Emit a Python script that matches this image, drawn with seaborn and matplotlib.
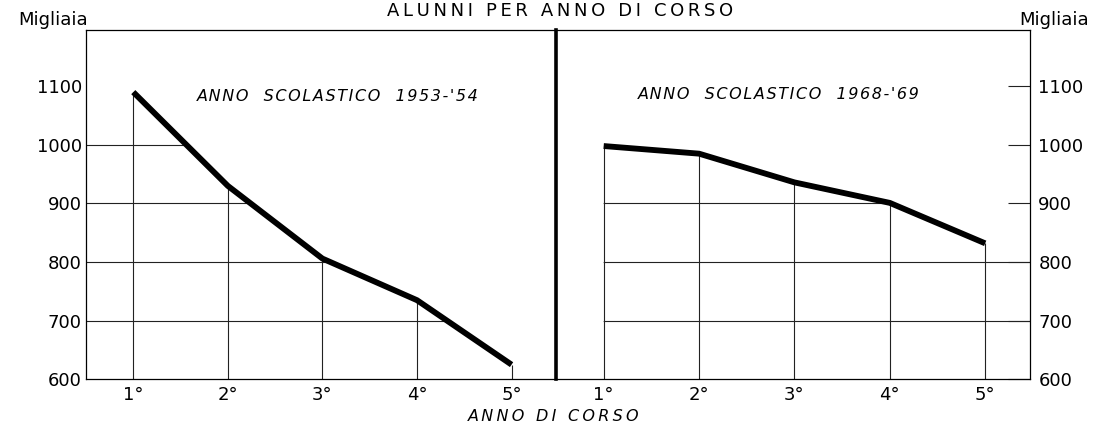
import numpy as np
import pandas as pd
import seaborn as sns
import matplotlib.pyplot as plt
from matplotlib.patches import Polygon

# dati (migliaia di alunni per anno di corso)
anni = [1, 2, 3, 4, 5]
etichette_anni = ['1°', '2°', '3°', '4°', '5°']
alunni_1953 = [1090, 930, 806, 735, 625]
alunni_1968 = [998, 985, 936, 901, 832]
yticks = [600, 700, 800, 900, 1000, 1100]

sns.set_theme(style='white')
plt.rcParams['font.family'] = ['DejaVu Sans']
plt.rcParams['text.color'] = 'black'
plt.rcParams['xtick.color'] = 'black'
plt.rcParams['ytick.color'] = 'black'

XMIN, XMAX = 0.5, 5.47
YMIN, YMAX = 600, 1196


def spaziato(testo, sep='\u200a'):
    return sep.join(testo)


def pannello(ax, valori, lato):
    df = pd.DataFrame({'anno': anni, 'alunni': valori})
    # area sotto la curva usata per ritagliare la griglia
    if lato == 'left':
        verts = [(XMIN, YMIN), (XMIN, valori[0])] + list(zip(anni, valori)) + [(anni[-1], YMIN)]
    else:
        verts = [(anni[0], YMIN)] + list(zip(anni, valori)) + [(XMAX, valori[-1]), (XMAX, YMIN)]
    clip = Polygon(verts, closed=True, transform=ax.transData)

    for y in yticks[1:]:
        ln, = ax.plot([XMIN, XMAX], [y, y], color='#222222', lw=0.8, zorder=1)
        ln.set_clip_path(clip)
    ax.vlines(anni, YMIN, valori, color='#222222', lw=0.8, zorder=1)

    sns.lineplot(data=df, x='anno', y='alunni', ax=ax, color='black', lw=4.2,
                 zorder=3, solid_capstyle='butt', solid_joinstyle='miter')

    ax.set_xlim(XMIN, XMAX)
    ax.set_ylim(YMIN, YMAX)
    ax.set_xticks(anni)
    ax.set_xticklabels(etichette_anni, fontsize=13)
    ax.set_yticks(yticks)
    ax.set_yticklabels([str(v) for v in yticks], fontsize=13)
    ax.set_xlabel('')
    ax.set_ylabel('')
    ax.tick_params(axis='x', length=0, pad=5)
    ax.tick_params(axis='y', direction='in', length=15.5, width=0.8, color='#222222')
    for s in ax.spines.values():
        s.set_color('black')
        s.set_linewidth(0.9)


fig = plt.figure(figsize=(11.04, 4.26), dpi=100)
ax1 = fig.add_axes([86 / 1104, 46.7 / 426, 470 / 1104, 349.3 / 426])
ax2 = fig.add_axes([556 / 1104, 46.7 / 426, 474 / 1104, 349.3 / 426])
ax2.patch.set_visible(False)

pannello(ax1, alunni_1953, 'left')
pannello(ax2, alunni_1968, 'right')

# linea divisoria spessa tra i due anni scolastici
ax1.spines['right'].set_linewidth(2.6)
ax1.tick_params(axis='y', pad=3)
ax2.spines['left'].set_visible(False)
ax2.yaxis.tick_right()
ax2.tick_params(axis='y', pad=6)

ax1.text((197 - 86) / 470, (379.3 - 101) / 349.3, spaziato("ANNO  SCOLASTICO  1953-'54"),
         fontsize=11.5, style='italic', ha='left', va='baseline', transform=ax1.transAxes)
ax2.text((638 - 556) / 474, (379.3 - 99.5) / 349.3, spaziato("ANNO  SCOLASTICO  1968-'69"),
         fontsize=11.5, style='italic', ha='left', va='baseline', transform=ax2.transAxes)

fig.text(554 / 1104, 1 - 421 / 426, spaziato('ANNO DI CORSO', '\u2009'), fontsize=11.5,
         style='italic', ha='center', va='baseline')
fig.text(88 / 1104, 1 - 25 / 426, 'Migliaia', fontsize=13, ha='right', va='baseline')
fig.text(1019 / 1104, 1 - 25 / 426, 'Migliaia', fontsize=13, ha='left', va='baseline')
fig.text(560 / 1104, 1 - 16 / 426, spaziato('ALUNNI PER ANNO DI CORSO', '\u2009'),
         fontsize=13, ha='center', va='baseline')

fig.savefig('out.png', dpi=100, facecolor='white')
